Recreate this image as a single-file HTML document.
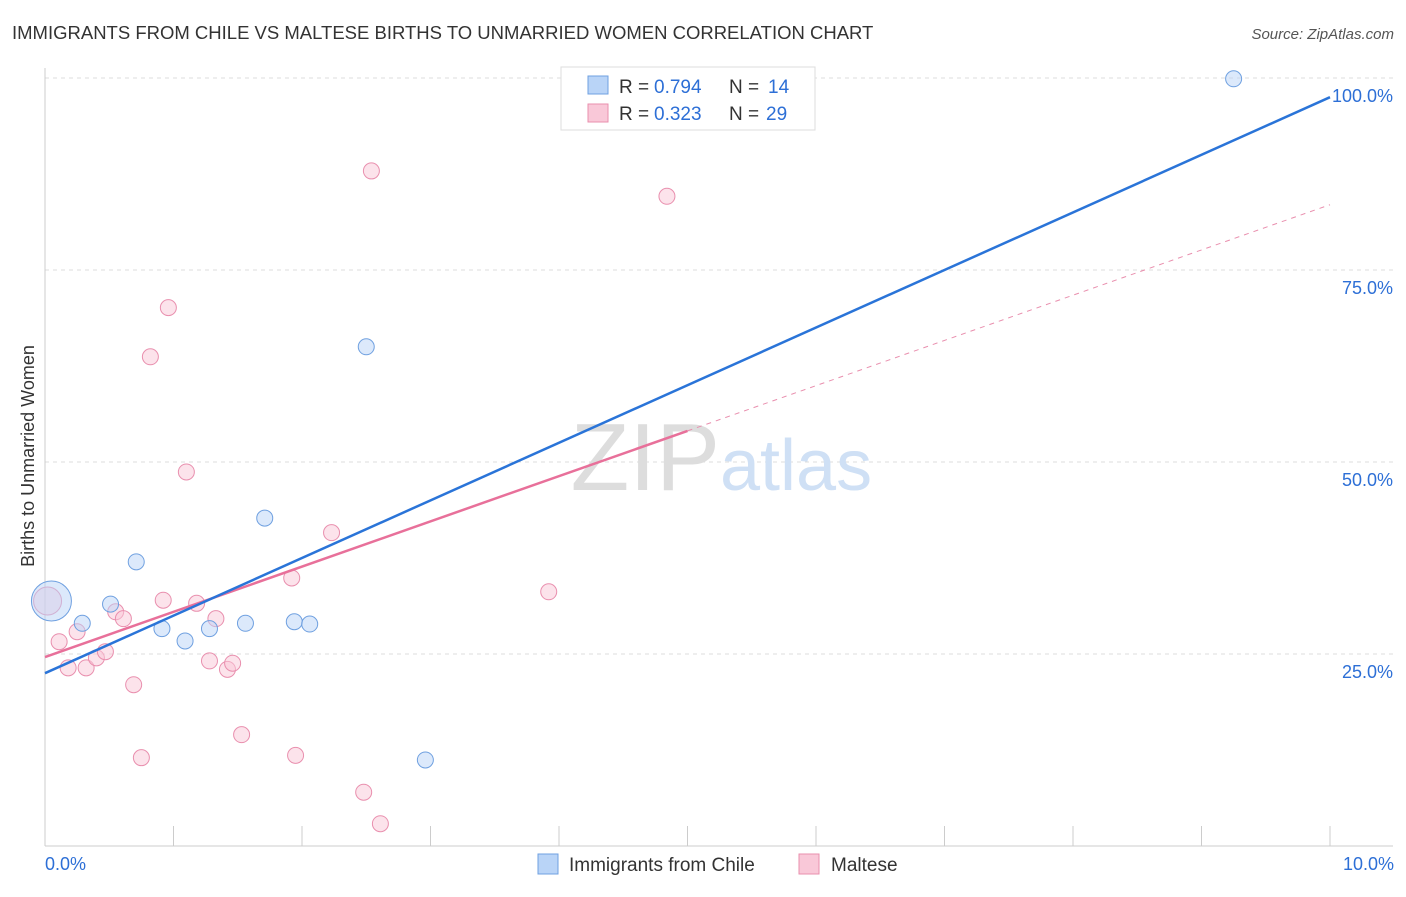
<!DOCTYPE html>
<html><head><meta charset="utf-8"><style>
body{margin:0;background:#fff;font-family:"Liberation Sans",sans-serif}
svg text{font-family:"Liberation Sans",sans-serif}
</style></head><body>
<svg id="c" width="1406" height="892">
<text x="12" y="39" font-size="18.5" fill="#333">IMMIGRANTS FROM CHILE VS MALTESE BIRTHS TO UNMARRIED WOMEN CORRELATION CHART</text>
<text x="1394" y="39" font-size="15" fill="#555" font-style="italic" text-anchor="end">Source: ZipAtlas.com</text>
<text transform="translate(34,456) rotate(-90)" font-size="18" fill="#333" text-anchor="middle">Births to Unmarried Women</text>
<g id="grid"></g>
<text x="720" y="490" font-size="96" fill="#ddd" text-anchor="end" font-family="Liberation Serif">ZIP</text>
<text x="720" y="490" font-size="72" fill="#cfe0f5">atlas</text>
<g id="marks"></g>
<g>
<rect x="561" y="67" width="254" height="63" fill="#fff" stroke="#ddd"/>
<rect x="588" y="76" width="20" height="18" fill="#b9d4f7" stroke="#6fa0e0"/>
<rect x="588" y="104" width="20" height="18" fill="#f9c8d8" stroke="#e98fae"/>
<text x="619" y="93" font-size="19" fill="#333">R =</text>
<text x="654" y="93" font-size="19" fill="#2d6fd6">0.794</text>
<text x="729" y="93" font-size="19" fill="#333">N =</text>
<text x="768" y="93" font-size="19" fill="#2d6fd6">14</text>
<text x="619" y="120" font-size="19" fill="#333">R =</text>
<text x="654" y="120" font-size="19" fill="#2d6fd6">0.323</text>
<text x="729" y="120" font-size="19" fill="#333">N =</text>
<text x="766" y="120" font-size="19" fill="#2d6fd6">29</text>
</g>
<g>
<rect x="538" y="854" width="20" height="20" fill="#b9d4f7" stroke="#6fa0e0"/>
<text x="569" y="871" font-size="19" fill="#333">Immigrants from Chile</text>
<rect x="799" y="854" width="20" height="20" fill="#f9c8d8" stroke="#e98fae"/>
<text x="831" y="871" font-size="19" fill="#333">Maltese</text>
</g>
<text x="45" y="870" font-size="18" fill="#2d6fd6">0.0%</text>
<text x="1394" y="870" font-size="18" fill="#2d6fd6" text-anchor="end">10.0%</text>
</svg>
<script>
const yTicks=[25,50,75,100];
const yTickLabels=["25.0%","50.0%","75.0%","100.0%"];
const chileX=[0.05,0.29,0.51,0.71,0.91,1.09,1.28,1.56,1.71,1.94,2.06,2.50,2.96,9.25];
const chileY=[31.9,29.0,31.5,37.0,28.3,26.7,28.3,29.0,42.7,29.2,28.9,65.0,11.2,99.9];
const malteseX=[0.02,0.11,0.18,0.25,0.32,0.40,0.47,0.55,0.61,0.69,0.75,0.82,0.92,0.96,1.10,1.18,1.28,1.33,1.42,1.46,1.53,1.92,1.95,2.23,2.48,2.54,2.61,3.92,4.84];
const malteseY=[31.9,26.6,23.2,27.9,23.2,24.5,25.3,30.5,29.6,21.0,11.5,63.7,32.0,70.1,48.7,31.6,24.1,29.6,23.0,23.8,14.5,34.9,11.8,40.8,7.0,87.9,2.9,33.1,84.6];
const chileTrend=[22.5,97.5];
const malteseTrend=[24.6,83.5];
const malteseSolidEnd=5.0;
const NS="http://www.w3.org/2000/svg";
const X=v=>45+v*128.5, Y=v=>846-v*7.68;
function mk(t,a,p){const e=document.createElementNS(NS,t);for(const k in a)e.setAttribute(k,a[k]);p.appendChild(e);return e;}
const g=document.getElementById('grid'), m=document.getElementById('marks');
yTicks.forEach((t,i)=>{
 const l=mk('line',{x1:45,x2:1393,y1:Y(t),y2:Y(t),stroke:'#ddd','stroke-dasharray':'4,4'},g);
 
 
 const tx=mk('text',{x:1393,y:Y(t)+24,'font-size':18,fill:'#2d6fd6','text-anchor':'end'},g);
 tx.textContent=yTickLabels[i];
 
 
});
const ax=mk('line',{x1:45,x2:45,y1:68,y2:846,stroke:'#ccc'},g);


const bx=mk('line',{x1:45,x2:1393,y1:846,y2:846,stroke:'#ccc'},g);


for(let i=1;i<=10;i++){
 const t=mk('line',{x1:X(i),x2:X(i),y1:826,y2:846,stroke:'#ccc'},g);
 
 
}
malteseX.forEach((x,i)=>{
 const c=mk('circle',{cx:X(x),cy:Y(malteseY[i]),r:i==0?14:8,fill:'rgba(249,200,216,0.5)',stroke:'#e98fae','stroke-width':1},m);
 
 
});
chileX.forEach((x,i)=>{
 const c=mk('circle',{cx:X(x),cy:Y(chileY[i]),r:i==0?20:8,fill:'rgba(185,212,247,0.5)',stroke:'#6fa0e0','stroke-width':1},m);
 
 
});
const mt=v=>malteseTrend[0]+(malteseTrend[1]-malteseTrend[0])*v/10;
const pd=mk('line',{x1:X(malteseSolidEnd),y1:Y(mt(malteseSolidEnd)),x2:X(10),y2:Y(malteseTrend[1]),stroke:'#e98fae','stroke-dasharray':'5,5','stroke-width':1},m);


const ps=mk('line',{x1:X(0),y1:Y(malteseTrend[0]),x2:X(malteseSolidEnd),y2:Y(mt(malteseSolidEnd)),stroke:'#e8709a','stroke-width':2.5},m);


const bl=mk('line',{x1:X(0),y1:Y(chileTrend[0]),x2:X(10),y2:Y(chileTrend[1]),stroke:'#2a74d8','stroke-width':2.5},m);


</script>
</body></html>
